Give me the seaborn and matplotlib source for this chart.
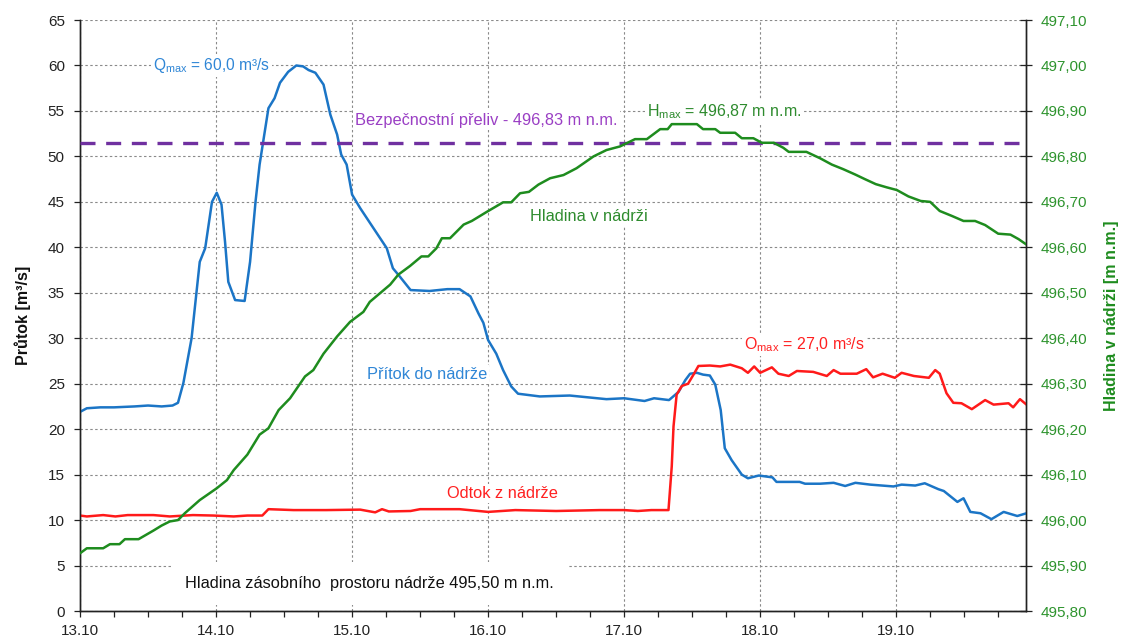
import matplotlib
matplotlib.use("Agg")
import matplotlib.pyplot as plt
import matplotlib.ticker as mticker
import seaborn as sns
import numpy as np

# ---------------- data ----------------
x_ticks = [13, 14, 15, 16, 17, 18, 19]
x_labels = ["13.10", "14.10", "15.10", "16.10", "17.10", "18.10", "19.10"]

t_in = [13.00, 13.05, 13.15, 13.25, 13.40, 13.50, 13.60, 13.68, 13.72, 13.76, 13.82, 13.88, 13.92,
        13.97, 14.005, 14.04, 14.066, 14.09, 14.14, 14.21, 14.25, 14.29, 14.32, 14.385, 14.43,
        14.47, 14.53, 14.59, 14.64, 14.68, 14.73, 14.79, 14.84, 14.89, 14.92, 14.96, 15.00, 15.06,
        15.255, 15.30, 15.35, 15.43, 15.57, 15.70, 15.79, 15.87, 15.93, 15.965, 16.00, 16.06, 16.11,
        16.17, 16.22, 16.38, 16.60, 16.87, 17.00, 17.15, 17.22, 17.33, 17.40, 17.45, 17.485, 17.535,
        17.58, 17.63, 17.67, 17.71, 17.74, 17.79, 17.865, 17.91, 17.99, 18.09, 18.12, 18.29, 18.33,
        18.44, 18.54, 18.625, 18.70, 18.81, 18.98, 19.04, 19.14, 19.21, 19.31, 19.35, 19.45, 19.495,
        19.545, 19.62, 19.70, 19.79, 19.89, 19.958]
q_in = [21.9, 22.3, 22.4, 22.4, 22.5, 22.6, 22.5, 22.6, 22.9, 25.1, 30.0, 38.4, 39.9,
        45.0, 46.0, 44.7, 40.6, 36.2, 34.2, 34.1, 38.4, 45.0, 49.1, 55.3, 56.4,
        58.1, 59.3, 60.0, 59.9, 59.5, 59.2, 57.9, 54.6, 52.4, 50.2, 49.1, 45.8, 44.3,
        39.9, 37.7, 36.8, 35.3, 35.2, 35.4, 35.4, 34.6, 32.7, 31.7, 29.8, 28.3, 26.5,
        24.7, 23.9, 23.6, 23.7, 23.3, 23.4, 23.1, 23.4, 23.2, 24.1, 25.4, 26.1, 26.2,
        26.0, 25.9, 24.9, 22.1, 17.9, 16.6, 15.0, 14.6, 14.9, 14.7, 14.2, 14.2, 14.0,
        14.0, 14.1, 13.75, 14.1, 13.9, 13.7, 13.9, 13.8, 14.05, 13.4, 13.2, 12.0, 12.4,
        10.9, 10.75, 10.1, 10.9, 10.45, 10.75]

t_out = [13.00, 13.05, 13.17, 13.26, 13.35, 13.54, 13.66, 13.83, 13.98, 14.13, 14.23, 14.34,
         14.385, 14.57, 14.81, 15.06, 15.17, 15.22, 15.27, 15.43, 15.50, 15.67, 15.79, 16.00,
         16.20, 16.50, 16.82, 17.00, 17.10, 17.20, 17.326, 17.35, 17.363, 17.386, 17.424, 17.47,
         17.51, 17.546, 17.63, 17.706, 17.78, 17.865, 17.91, 17.956, 18.00, 18.086, 18.134, 18.21,
         18.27, 18.39, 18.49, 18.54, 18.59, 18.71, 18.78, 18.83, 18.90, 18.99, 19.04, 19.13, 19.24,
         19.287, 19.32, 19.37, 19.42, 19.48, 19.556, 19.654, 19.716, 19.826, 19.86, 19.91, 19.958]
q_out = [10.5, 10.4, 10.55, 10.4, 10.55, 10.55, 10.4, 10.55, 10.5, 10.4, 10.5, 10.5,
         11.2, 11.1, 11.1, 11.15, 10.85, 11.2, 10.95, 11.0, 11.2, 11.2, 11.2, 10.9,
         11.1, 11.0, 11.1, 11.1, 11.0, 11.1, 11.1, 15.9, 20.3, 23.8, 24.75, 25.0,
         26.0, 26.95, 27.0, 26.9, 27.1, 26.7, 26.2, 26.9, 26.2, 26.8, 26.1, 25.85,
         26.4, 26.3, 25.85, 26.5, 26.1, 26.1, 26.6, 25.7, 26.1, 25.65, 26.2, 25.85, 25.65,
         26.5, 26.1, 23.95, 22.9, 22.85, 22.2, 23.2, 22.7, 22.85, 22.4, 23.3, 22.7]

t_lvl = [13.00, 13.05, 13.17, 13.22, 13.29, 13.33, 13.43, 13.54, 13.60, 13.66, 13.72, 13.77,
         13.88, 14.005, 14.08, 14.13, 14.23, 14.32, 14.385, 14.46, 14.544, 14.654, 14.715, 14.79,
         14.89, 14.985, 15.083, 15.13, 15.28, 15.34, 15.426, 15.51, 15.56, 15.62, 15.66, 15.72,
         15.82, 15.88, 15.99, 16.11, 16.17, 16.235, 16.30, 16.37, 16.456, 16.554, 16.65, 16.775,
         16.87, 16.97, 17.08, 17.167, 17.265, 17.32, 17.35, 17.535, 17.58, 17.67, 17.706, 17.816,
         17.865, 17.95, 18.012, 18.10, 18.17, 18.21, 18.34, 18.44, 18.527, 18.61, 18.70, 18.77,
         18.85, 18.93, 19.005, 19.09, 19.18, 19.25, 19.32, 19.41, 19.495, 19.58, 19.654, 19.75,
         19.84, 19.90, 19.958]
h_lvl = [495.927, 495.938, 495.938, 495.947, 495.947, 495.958, 495.958, 495.977, 495.988, 495.997,
         496.000, 496.015, 496.044, 496.070, 496.088, 496.110, 496.144, 496.188, 496.202, 496.242,
         496.268, 496.316, 496.330, 496.366, 496.404, 496.436, 496.458, 496.480, 496.518, 496.540,
         496.559, 496.580, 496.580, 496.598, 496.620, 496.620, 496.650, 496.658, 496.678, 496.699,
         496.699, 496.719, 496.722, 496.738, 496.752, 496.759, 496.774, 496.800, 496.814, 496.822,
         496.838, 496.838, 496.860, 496.860, 496.871, 496.871, 496.860, 496.860, 496.852, 496.852,
         496.840, 496.840, 496.830, 496.830, 496.819, 496.810, 496.810, 496.796, 496.782, 496.772,
         496.760, 496.750, 496.739, 496.732, 496.726, 496.712, 496.702, 496.700, 496.680, 496.669,
         496.658, 496.658, 496.649, 496.630, 496.628, 496.618, 496.606]

spillway_level = 496.83

# ---------------- style ----------------
sns.set_theme(style="white")
plt.rcParams["font.family"] = ["Liberation Sans", "DejaVu Sans"]

BLUE = "#1b75c6"
RED = "#ff1a1a"
GREEN = "#1e8c1e"
PURPLE = "#7030a0"
GRID = "#8a8a8a"

fig = plt.figure(figsize=(11.21, 6.36), dpi=100)
ax = fig.add_axes([0.0714, 0.0393, 0.8443, 0.9292])
ax2 = ax.twinx()

ax.set_xlim(13.0, 19.958)
ax.set_ylim(0, 65)
ax2.set_ylim(495.80, 497.10)

ax.set_axisbelow(True)
ax.grid(True, which="major", axis="both", color=GRID, linestyle=(0, (2.2, 2.2)), linewidth=0.8)
ax2.grid(False)
ax.patch.set_facecolor("white")
ax2.patch.set_visible(False)

for a in (ax, ax2):
    a.spines["top"].set_visible(False)
    for s in ("left", "right", "bottom"):
        a.spines[s].set_color("#222222")
        a.spines[s].set_linewidth(1.0)

# lines
sns.lineplot(x=t_in, y=q_in, ax=ax, color=BLUE, linewidth=1.8, zorder=4)
sns.lineplot(x=t_out, y=q_out, ax=ax, color=RED, linewidth=1.8, zorder=4)
sns.lineplot(x=t_lvl, y=h_lvl, ax=ax2, color=GREEN, linewidth=1.8, zorder=4)
ax2.axhline(spillway_level, color=PURPLE, linewidth=2.4, linestyle=(0, (4.5, 3.2)), zorder=3)

# ticks
ax.set_xticks(x_ticks)
ax.set_xticklabels(x_labels)
ax.xaxis.set_minor_locator(mticker.MultipleLocator(0.25))
ax.set_yticks(np.arange(0, 66, 5))
ax2.set_yticks(np.arange(495.80, 497.101, 0.10))
ax2.yaxis.set_major_formatter(mticker.FuncFormatter(lambda v, p: f"{v:.2f}".replace(".", ",")))

ax.tick_params(axis="x", which="both", direction="out", length=4, width=0.9, colors="#222222",
               labelsize=11, pad=5, bottom=True)
ax.tick_params(axis="y", which="major", direction="out", length=4, width=0.9, colors="#222222",
               labelsize=11, pad=7, left=True)
ax2.tick_params(axis="y", which="major", direction="inout", length=8, width=0.9, color="#222222",
                labelcolor="#2e942e", labelsize=11, pad=6, right=True)
ax2.tick_params(axis="x", which="both", bottom=False, top=False)

ax.set_xlabel("")
ax.set_ylabel("Průtok [m³/s]", fontsize=11.5, fontweight="bold", color="#111111", labelpad=12)
ax2.set_ylabel("Hladina v nádrži [m n.m.]", fontsize=11.5, fontweight="bold", color=GREEN, labelpad=12)

# annotations
box = dict(facecolor="white", edgecolor="none", pad=1.5)
fs = 11.8
ax.text(13.535, 60.0, r"Q$_{\mathregular{max}}$ = 60,0 m³/s", color="#2f86d6", fontsize=fs - 0.6,
        va="center", ha="left", bbox=box, zorder=3)
ax.text(15.022, 54.0, "Bezpečnostní přeliv - 496,83 m n.m.", color="#9a3fc4", fontsize=fs,
        va="center", ha="left", bbox=box, zorder=3)
ax.text(17.167, 54.9, r"H$_{\mathregular{max}}$ = 496,87 m n.m.", color="#2e8b2e", fontsize=fs - 0.3,
        va="center", ha="left", bbox=box, zorder=3)
ax.text(16.31, 43.4, "Hladina v nádrži", color="#2e8b2e", fontsize=fs,
        va="center", ha="left", bbox=box, zorder=3)
ax.text(15.108, 26.0, "Přítok do nádrže", color="#2f86d6", fontsize=fs,
        va="center", ha="left", bbox=box, zorder=3)
ax.text(17.88, 29.3, r"O$_{\mathregular{max}}$ = 27,0 m³/s", color="#ff2020", fontsize=fs - 0.3,
        va="center", ha="left", bbox=box, zorder=3)
ax.text(15.70, 12.95, "Odtok z nádrže", color="#ff2020", fontsize=fs,
        va="center", ha="left", bbox=box, zorder=3)
ax.text(13.77, 3.05, "Hladina zásobního  prostoru nádrže 495,50 m n.m.", color="#111111", fontsize=fs,
        va="center", ha="left", zorder=3,
        bbox=dict(facecolor="white", edgecolor="none", boxstyle="square,pad=0.85"))

fig.savefig("out.png", dpi=100)
